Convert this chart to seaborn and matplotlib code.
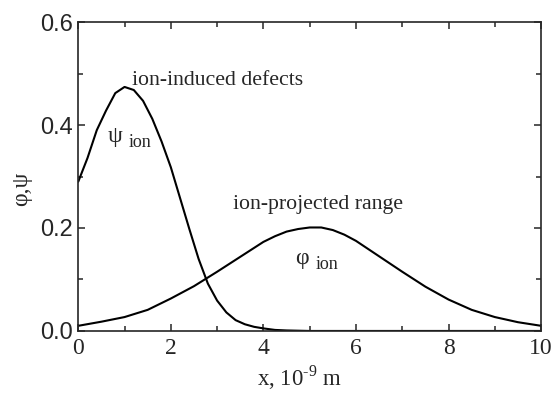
import pandas as pd
import matplotlib
matplotlib.use("Agg")
import matplotlib.pyplot as plt
import seaborn as sns
from matplotlib.ticker import MultipleLocator, FormatStrFormatter

# values
psi_x = [0, 0.2, 0.4, 0.6, 0.8, 1.0, 1.2, 1.4, 1.6, 1.8, 2.0, 2.2, 2.4, 2.6, 2.8,
         3.0, 3.2, 3.4, 3.6, 3.8, 4.0, 4.25, 4.5, 5, 6, 7, 8, 9, 10]
psi_y = [0.290, 0.336, 0.390, 0.428, 0.462, 0.474, 0.468, 0.447, 0.412, 0.368,
         0.318, 0.258, 0.198, 0.140, 0.092, 0.059, 0.036, 0.021, 0.013, 0.008,
         0.005, 0.002, 0.001, 0, 0, 0, 0, 0, 0]

phi_x = [0, 0.5, 1, 1.5, 2, 2.5, 3, 3.5, 4, 4.25, 4.5, 4.75, 5, 5.25, 5.5, 5.75,
         6, 6.5, 7, 7.5, 8, 8.5, 9, 9.5, 10]
phi_y = [0.010, 0.018, 0.027, 0.041, 0.063, 0.087, 0.115, 0.144, 0.173, 0.184,
         0.193, 0.198, 0.201, 0.201, 0.196, 0.187, 0.175, 0.145, 0.115, 0.086,
         0.061, 0.041, 0.027, 0.017, 0.010]

psi_df = pd.DataFrame({'x': psi_x, 'y': psi_y})
phi_df = pd.DataFrame({'x': phi_x, 'y': phi_y})

sns.set_style("ticks")
plt.rcParams['font.family'] = ['Liberation Serif', 'DejaVu Serif']
plt.rcParams['mathtext.fontset'] = 'custom'
plt.rcParams['mathtext.rm'] = 'Liberation Serif'

fig = plt.figure(figsize=(5.55, 3.94), dpi=100)
ax = fig.add_axes([0.141, 0.160, 0.834, 0.784])

sns.lineplot(data=psi_df, x='x', y='y', color='black', linewidth=1.5, ax=ax)
sns.lineplot(data=phi_df, x='x', y='y', color='black', linewidth=1.5, ax=ax)

ax.set_xlim(0, 10)
ax.set_ylim(0, 0.6)
ax.xaxis.set_major_locator(MultipleLocator(2))
ax.xaxis.set_minor_locator(MultipleLocator(1))
ax.yaxis.set_major_locator(MultipleLocator(0.2))
ax.yaxis.set_minor_locator(MultipleLocator(0.1))
ax.yaxis.set_major_formatter(FormatStrFormatter('%.1f'))
ax.tick_params(which='both', direction='in', top=True, right=True, width=1.1)
ax.tick_params(which='major', length=5)
ax.tick_params(which='minor', length=3.5)
ax.tick_params(axis='x', labelsize=17, pad=5)
ax.tick_params(axis='y', labelsize=17, pad=4)
for lab in ax.get_yticklabels():
    lab.set_family('Liberation Sans')
for s in ax.spines.values():
    s.set_linewidth(1.2)

ax.set_xlabel(r'x, 10$^{\text{-}9}$ m', fontsize=16.5)
ax.xaxis.set_label_coords(0.477, -0.105)
ax.set_ylabel('φ,ψ', fontsize=17)
ax.yaxis.set_label_coords(-0.10, 0.46)

# curve annotations
ax.text(1.17, 0.478, 'ion-induced defects', fontsize=15.7, va='baseline')
ax.text(0.63, 0.377, 'ψ', fontsize=17, va='center')
ax.text(1.08, 0.367, 'ion', fontsize=13, va='center')
ax.text(3.35, 0.237, 'ion-projected range', fontsize=15.7, va='baseline')
ax.text(4.68, 0.140, 'φ', fontsize=17, va='center')
ax.text(5.12, 0.130, 'ion', fontsize=13, va='center')

plt.savefig('out.png', dpi=100)
plt.close()
